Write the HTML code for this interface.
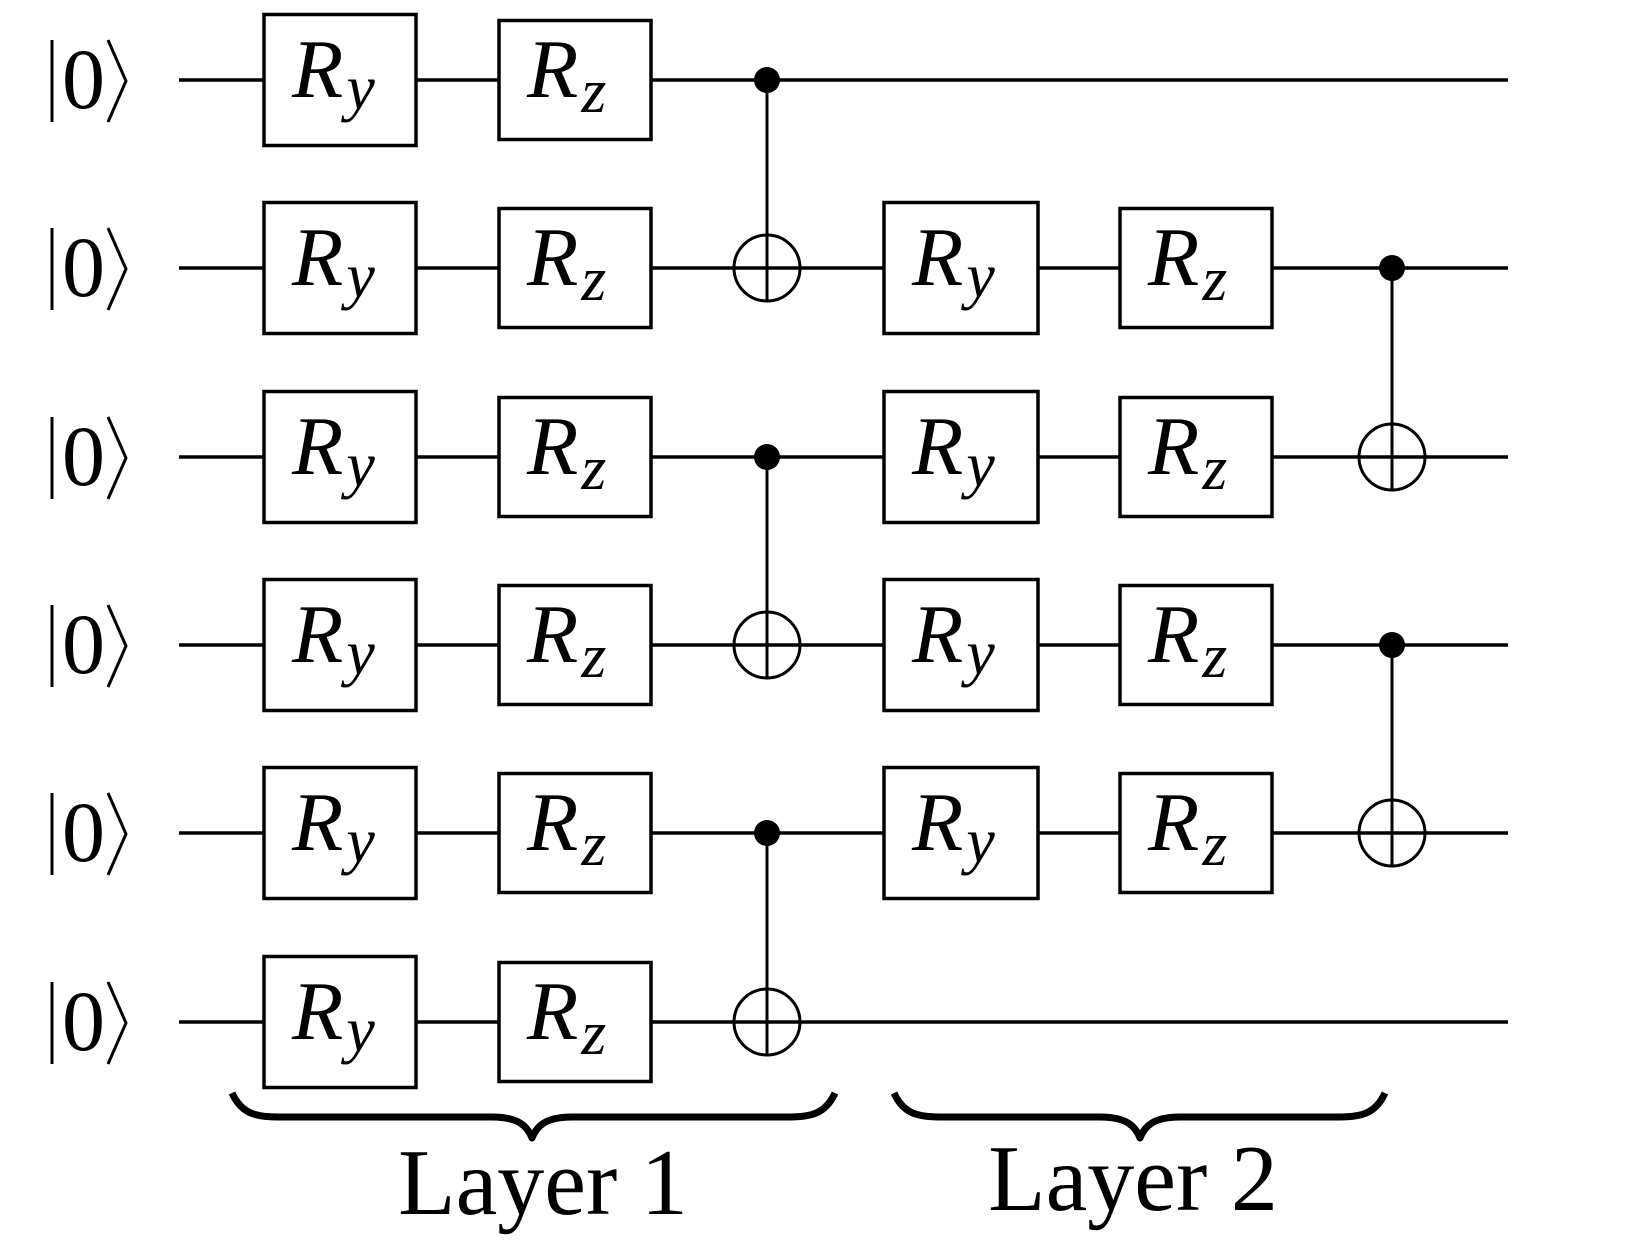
<!DOCTYPE html>
<html><head><meta charset="utf-8"><style>html,body{margin:0;padding:0;background:#fff}svg{display:block}text{font-family:"Liberation Serif","Times New Roman",serif}</style></head>
<body>
<svg width="1628" height="1259" viewBox="0 0 1628 1259" xmlns="http://www.w3.org/2000/svg">
<g id="all" stroke="#000" fill="none" stroke-width="3.5">
</g>
<script>
var svg=document.querySelector('svg'),g=document.getElementById('all');
var NS="http://www.w3.org/2000/svg";
function el(t,a,txt){var p=a.parent||g;delete a.parent;var e=document.createElementNS(NS,t);for(var k in a)e.setAttribute(k,a[k]);if(txt!==undefined)e.textContent=txt;p.appendChild(e);return e;}
var SER='font-family:"Liberation Serif","Times New Roman",serif;';
var W=[80,268,457,645,833,1022];
W.forEach(function(y,i){
 el('line',{x1:52,y1:y-40,x2:52,y2:y+42,'stroke-width':3});
 el('polyline',{points:"108,"+(y-40)+" 126,"+(y+1)+" 108,"+(y+42),'stroke-width':3});
 el('text',{x:62,y:y+28,style:SER+'font-size:86px',fill:'#000',stroke:'none'},'0');
 el('line',{x1:179,y1:y,x2:1508,y2:y});
});
function gate(x1,x2,y,h,sub){
 el('rect',{x:x1,y:y-h/2,width:x2-x1,height:h,fill:'#fff'});
 var t=el('text',{x:x1+28,y:y+17,style:SER+'font-style:italic;font-size:84px',fill:'#000',stroke:'none'},'R');
 el('tspan',{style:'font-size:64px',dx:3,dy:(sub=='y'?12:15),parent:t},sub);
}
W.forEach(function(y,i){
 gate(264,416,y,131,'y');gate(499,651,y,119,'z');
 if(i>=1&&i<=4){gate(884,1038,y,131,'y');gate(1120,1272,y,119,'z');}
});
function cnot(x,yc,yt){
 el('line',{x1:x,y1:yc,x2:x,y2:yt+33,'stroke-width':3});
 el('circle',{cx:x,cy:yc,r:13,fill:'#000',stroke:'none'});
 el('circle',{cx:x,cy:yt,r:33,'stroke-width':3});
 el('line',{x1:x-33,y1:yt,x2:x+33,y2:yt,'stroke-width':3});
}
cnot(767,W[0],W[1]);cnot(767,W[2],W[3]);cnot(767,W[4],W[5]);
cnot(1392,W[1],W[2]);cnot(1392,W[3],W[4]);
function brace(x1,x2,xm){
 var d="M"+x1+",1093 C"+(x1+10)+",1115 "+(x1+25)+",1117 "+(x1+50)+",1117 L"+(xm-40)+",1117 C"+(xm-15)+",1117 "+(xm-5)+",1125 "+xm+",1138 C"+(xm+5)+",1125 "+(xm+15)+",1117 "+(xm+40)+",1117 L"+(x2-50)+",1117 C"+(x2-25)+",1117 "+(x2-10)+",1115 "+x2+",1093";
 el('path',{d:d,'stroke-width':7,'stroke-linejoin':'round'});
}
brace(232,835,532);brace(894,1385,1140);
el('text',{x:543,y:1214,'text-anchor':'middle',style:SER+'font-size:94px',fill:'#000',stroke:'none'},'Layer 1');
el('text',{x:1133,y:1210,'text-anchor':'middle',style:SER+'font-size:94px',fill:'#000',stroke:'none'},'Layer 2');
</script>
</svg>
</body></html>
